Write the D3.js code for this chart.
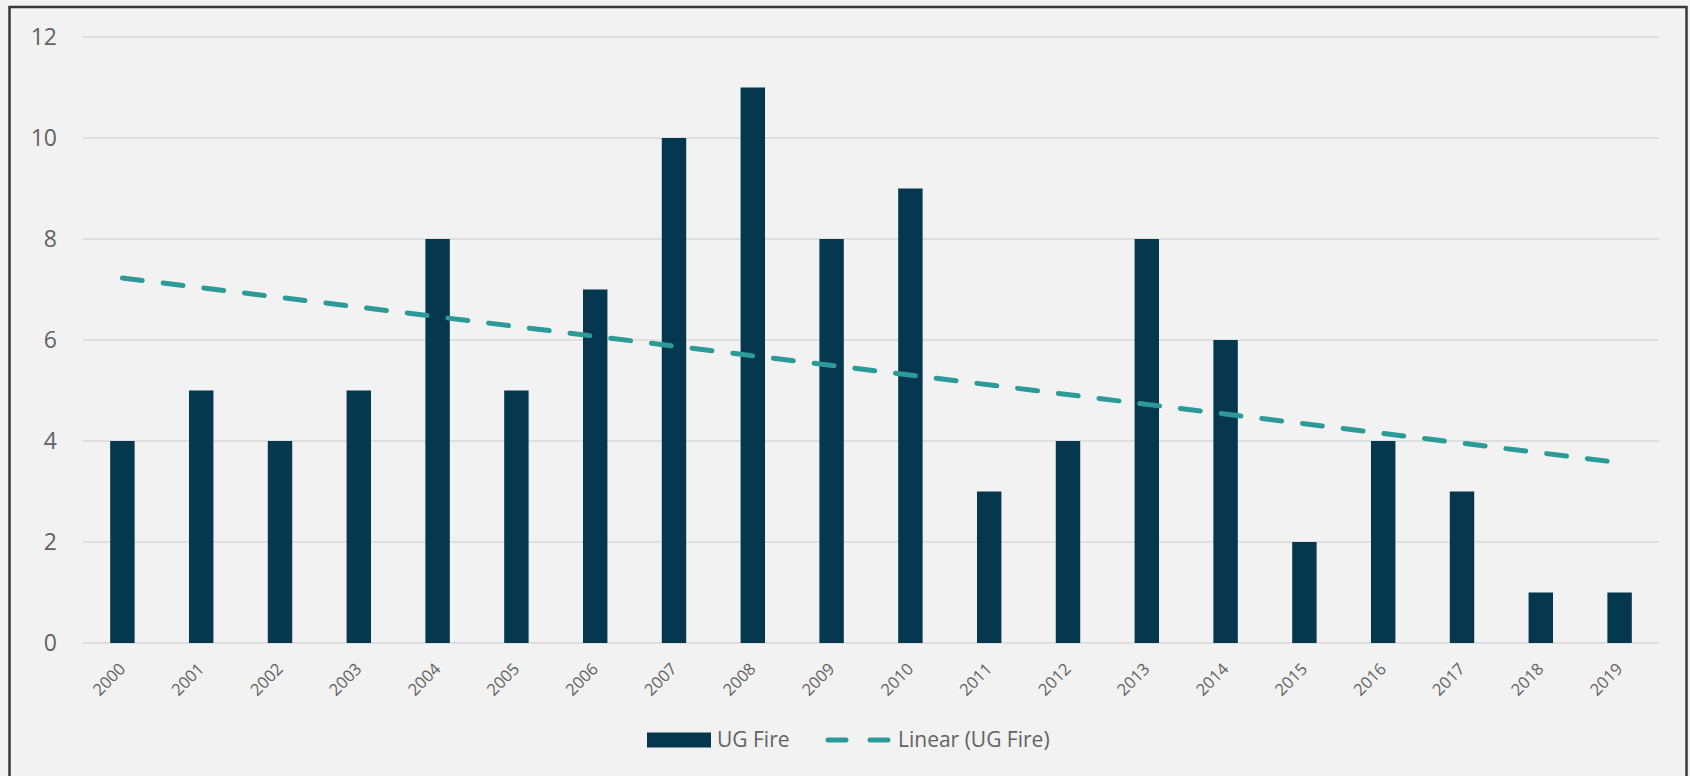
<!DOCTYPE html>
<html>
<head>
<meta charset="utf-8">
<script src="https://cdn.jsdelivr.net/npm/d3@7"></script>
<style>
  html, body { margin: 0; padding: 0; background: #f1f2f1; }
  svg { display: block; font-family: "Open Sans", "Noto Sans", sans-serif; }
</style>
</head>
<body>
<div id="chart"></div>
<script>
// data
const years = ["2000", "2001", "2002", "2003", "2004", "2005", "2006", "2007", "2008", "2009",
	"2010", "2011", "2012", "2013", "2014", "2015", "2016", "2017", "2018", "2019"];
const ugFire = [4, 5, 4, 5, 8, 5, 7, 10, 11, 8, 9, 3, 4, 8, 6, 2, 4, 3, 1, 1];
const yTicks = [0, 2, 4, 6, 8, 10, 12];
const seriesName = "UG Fire";
const trendName = "Linear (UG Fire)";

const width = 1690, height = 776;
const margin = { top: 37, right: 31, bottom: 133, left: 83 };
const barColor = "#05374f";
const trendColor = "#2b9a98";
const textColor = "#636363";

const svg = d3.select("#chart").append("svg")
	.attr("width", width)
	.attr("height", height);

// frame
svg.append("rect")
	.attr("x", 9.5).attr("y", 7)
	.attr("width", 1677).attr("height", 800)
	.attr("fill", "#f1f2f1")
	.attr("stroke", "#383838")
	.attr("stroke-width", 2.5);

const x = d3.scaleBand()
	.domain(years)
	.range([margin.left, width - margin.right])
	.paddingInner(0.69)
	.paddingOuter(0.345);

const y = d3.scaleLinear()
	.domain([0, 12])
	.range([height - margin.bottom, margin.top]);

// gridlines
svg.append("g")
	.selectAll("line")
	.data(yTicks)
	.join("line")
	.attr("x1", margin.left)
	.attr("x2", width - margin.right)
	.attr("y1", d => y(d))
	.attr("y2", d => y(d))
	.attr("stroke", "#d8d9d8")
	.attr("stroke-width", 1.5);

// y axis labels
const yAxis = d3.axisLeft(y).tickValues(yTicks).tickSize(0).tickPadding(0);
svg.append("g")
	.attr("transform", "translate(57,0)")
	.call(yAxis)
	.call(g => g.select(".domain").remove())
	.call(g => g.selectAll("text")
		.attr("fill", textColor)
		.style("font-size", "23px")
		.style("font-family", "'Open Sans', sans-serif"));

// bars
svg.append("g")
	.selectAll("rect")
	.data(ugFire)
	.join("rect")
	.attr("x", (d, i) => x(years[i]))
	.attr("width", x.bandwidth())
	.attr("y", d => y(d))
	.attr("height", d => y(0) - y(d))
	.attr("fill", barColor);

// x axis labels, rotated
const xAxis = d3.axisBottom(x).tickSize(0).tickPadding(0);
svg.append("g")
	.attr("transform", `translate(0,${y(0)})`)
	.call(xAxis)
	.call(g => g.select(".domain").remove())
	.call(g => g.selectAll("text")
		.attr("fill", textColor)
		.style("font-size", "16.5px")
		.style("font-family", "'Open Sans', sans-serif")
		.attr("text-anchor", "end")
		.attr("dy", null)
		.attr("y", null)
		.attr("transform", "translate(4,27) rotate(-45)"));

// linear trend (least squares on the series)
const n = ugFire.length;
const mx = d3.mean(ugFire, (d, i) => i);
const my = d3.mean(ugFire);
const slope = d3.sum(ugFire, (d, i) => (i - mx) * (d - my)) / d3.sum(ugFire, (d, i) => (i - mx) ** 2);
const icept = my - slope * mx;
const trendPts = [0, n - 1].map(i => [x(years[i]) + x.bandwidth() / 2, y(icept + slope * i)]);

svg.append("path")
	.attr("d", d3.line()(trendPts))
	.attr("fill", "none")
	.attr("stroke", trendColor)
	.attr("stroke-width", 5)
	.attr("stroke-dasharray", "20 21")
	.attr("stroke-linecap", "round");

// legend
const legend = svg.append("g").attr("transform", "translate(0,740)");
legend.append("rect")
	.attr("x", 647).attr("y", -7.5)
	.attr("width", 64).attr("height", 15)
	.attr("fill", barColor);
legend.append("text")
	.attr("x", 717).attr("y", 0)
	.attr("dy", "0.35em")
	.attr("fill", textColor)
	.style("font-size", "21px")
	.text(seriesName);
legend.append("line")
	.attr("x1", 828).attr("x2", 889)
	.attr("y1", 0).attr("y2", 0)
	.attr("stroke", trendColor)
	.attr("stroke-width", 5)
	.attr("stroke-linecap", "round")
	.attr("stroke-dasharray", "18 24");
legend.append("text")
	.attr("x", 898).attr("y", 0)
	.attr("dy", "0.35em")
	.attr("fill", textColor)
	.style("font-size", "21px")
	.text(trendName);
</script>
</body>
</html>
